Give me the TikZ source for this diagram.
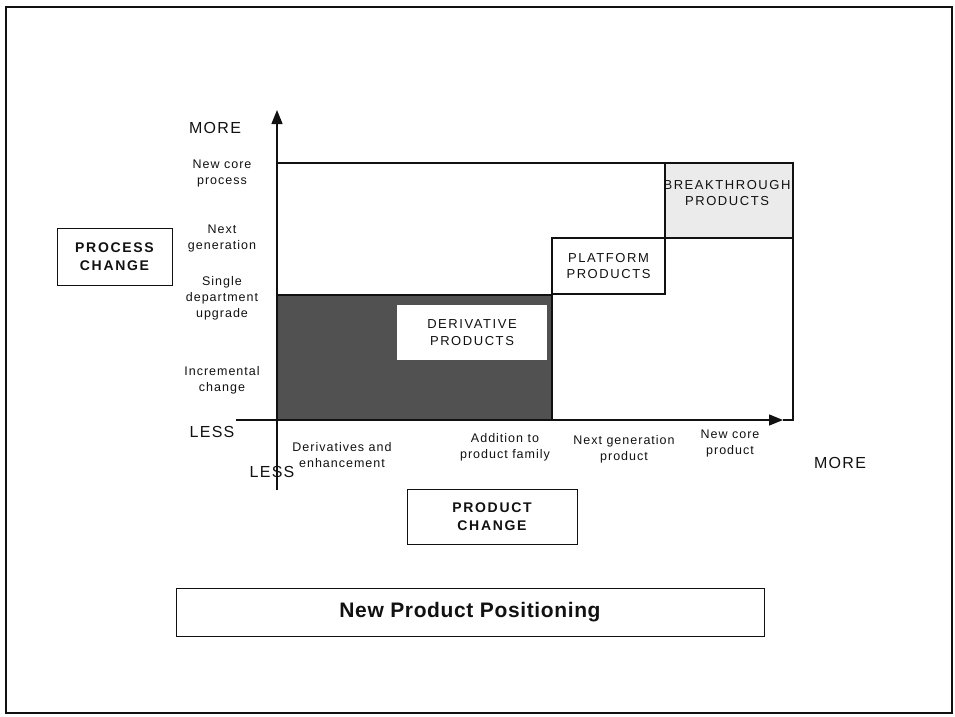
\documentclass[tikz,border=0pt]{standalone}
\usepackage{fontspec}
\setmainfont{Liberation Sans}
\newfontfamily\labfont[LetterSpace=8]{Liberation Sans}
\newfontfamily\capfont[LetterSpace=12]{Liberation Sans}
\newfontfamily\headfont[LetterSpace=12]{Liberation Sans}
\newfontfamily\titlefont[LetterSpace=3]{Liberation Sans}
\usetikzlibrary{arrows.meta,positioning}
\definecolor{ink}{HTML}{111111}
\definecolor{darkfill}{HTML}{515151}
\definecolor{lightfill}{HTML}{EBEBEB}
\tikzset{
  axis/.style={line width=1.4pt, draw=ink, -{Triangle[length=14pt,width=11pt]}},
  gridline/.style={line width=1.1pt, draw=ink},
  lab/.style={font=\labfont\fontsize{12.5}{16}\selectfont, align=center, text=ink, inner sep=0pt},
  tag/.style={font=\labfont\fontsize{16}{18}\selectfont, text=ink, inner sep=0pt},
  capbox/.style={font=\capfont\fontsize{13}{16.5}\selectfont, align=center, text=ink, inner sep=0pt},
  headbox/.style={draw=ink, line width=1pt, font=\headfont\bfseries\fontsize{14}{18}\selectfont,
                  align=center, text=ink, inner sep=0pt},
}

\begin{document}
\begin{tikzpicture}[x=1pt, y=-1pt]
    \useasboundingbox (0,0) rectangle (955,716);
    \draw[line width=1.3pt, draw=ink] (6,7) rectangle (952,713);
    % grid corners and axis ends
    \coordinate (origin) at (277,420);
    \coordinate (ybot) at (277,490);
    \coordinate (ytip) at (277,110);
    \coordinate (xbeg) at (236,420);
    \coordinate (xtip) at (783,420);
    \coordinate (tl) at (277,163);
    \coordinate (tr) at (793,163);
    \coordinate (br) at (793,420);
    % shaded regions
    \fill[darkfill] (277,295) rectangle (552,420);
    \draw[gridline] (277,295) rectangle (552,420);
    \fill[lightfill] (665,163) rectangle (793,238);
    \draw[gridline] (665,163) rectangle (793,238);
    \draw[gridline] (tl) -- (tr) -- (br) -- (xtip);
    \draw[axis] (ybot) -- (ytip);
    \draw[axis] (xbeg) -- (xtip);
    % product boxes
    \node[capbox, fill=white, minimum width=150pt, minimum height=55pt] (deriv) at (472,332.5) {DERIVATIVE\\PRODUCTS};
    \node[capbox, draw=ink, line width=1.1pt, minimum width=113pt, minimum height=56pt] (platform) at (608.5,266) {PLATFORM\\PRODUCTS};
    \node[capbox] (breakthru) at (727,193) {BREAKTHROUGH\\PRODUCTS};
    % process axis labels
    \node[tag] (moretop) at (215,128) {MORE};
    \node[lab] (p4) at (222,173) {New core\\process};
    \node[lab] (p3) at (222,238) {Next\\generation};
    \node[lab] (p2) at (222,298) {Single\\department\\upgrade};
    \node[lab] (p1) at (222,380) {Incremental\\change};
    \node[tag] (lessleft) at (212,432) {LESS};
    \node[headbox, minimum width=115pt, minimum height=57pt] (process) at (114.5,256.5) {PROCESS\\CHANGE};
    % product axis labels
    \node[lab] (q1) at (342,455) {Derivatives and\\enhancement};
    \node[lab] (q2) at (505,447) {Addition to\\product family};
    \node[lab] (q3) at (624,449) {Next generation\\product};
    \node[lab] (q4) at (730,443) {New core\\product};
    \node[tag] (moreright) at (840,463) {MORE};
    \node[tag] (lessbot) at (272,472) {LESS};
    \node[headbox, minimum width=170pt, minimum height=55pt] (product) at (492,516.5) {PRODUCT\\CHANGE};
    % caption
    \node[draw=ink, line width=1pt, minimum width=588pt, minimum height=48pt, inner sep=0pt,
          font=\titlefont\bfseries\fontsize{21}{24}\selectfont, text=ink] (title) at (470,612) {New Product Positioning};
  \end{tikzpicture}
\end{document}
